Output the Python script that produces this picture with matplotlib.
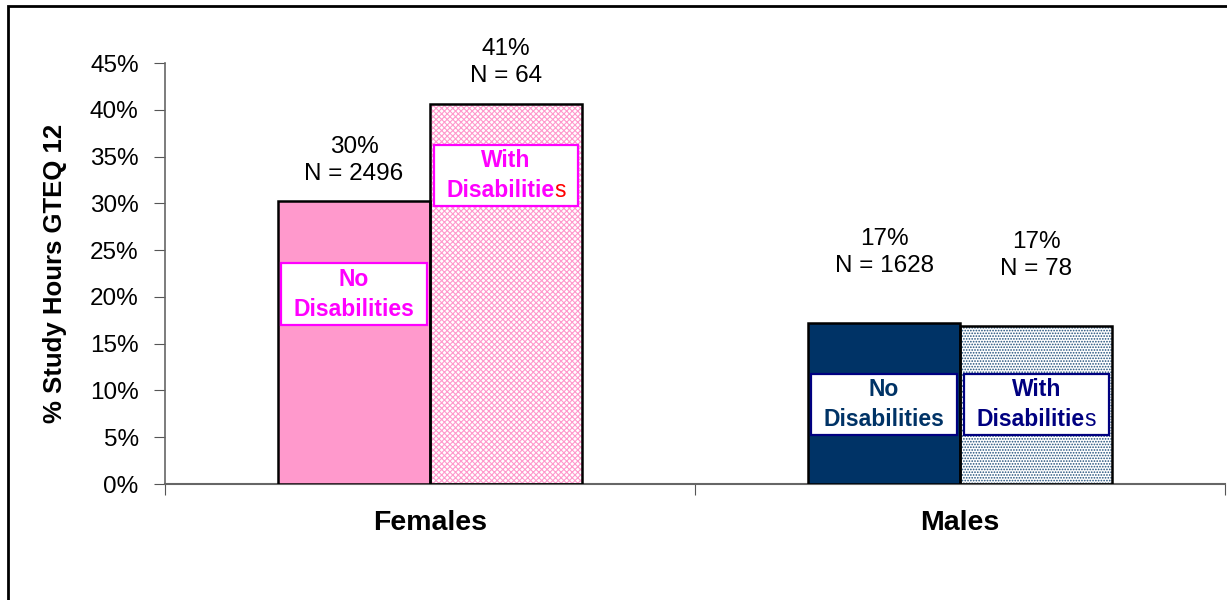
import numpy as np
import matplotlib.pyplot as plt
from matplotlib.patches import Rectangle
from matplotlib.offsetbox import (TextArea, HPacker, VPacker, DrawingArea,
                                  AnnotationBbox)
from matplotlib.ticker import PercentFormatter

plt.rcParams['font.family'] = ['Liberation Sans', 'DejaVu Sans']
plt.rcParams['hatch.linewidth'] = 0.8

groups = ['Females', 'Males']
series = ['No Disabilities', 'With Disabilities']
values = {
    'No Disabilities': [0.302, 0.172],
    'With Disabilities': [0.406, 0.169],
}
pct_labels = {
    'No Disabilities': ['30%', '17%'],
    'With Disabilities': ['41%', '17%'],
}
n_labels = {
    'No Disabilities': [2496, 1628],
    'With Disabilities': [64, 78],
}
yticks = np.arange(0, 0.46, 0.05)

fig = plt.figure(figsize=(12.27, 6), dpi=100)
ax = fig.add_axes([0.1345, 0.1933, 0.864, 0.7017])

# outer frame (only left/top visible in the original)
fig.patches.append(Rectangle((8 / 1227, -0.5), 2.0, 1.5 - 6 / 600,
                             transform=fig.transFigure, fill=False,
                             edgecolor='black', linewidth=2.0))

x = np.arange(len(groups))
w = 0.287

# bar styles per group / series
face = {('Females', 'No Disabilities'): '#FF99CC',
        ('Females', 'With Disabilities'): 'white',
        ('Males', 'No Disabilities'): '#003366',
        ('Males', 'With Disabilities'): 'white'}
hatch = {('Females', 'With Disabilities'): ('xxxxxx', '#FF99CC'),
         ('Males', 'With Disabilities'): ('......', '#1F4E79')}
# box edge, text colour, colour of the trailing "s" (None = no split)
text_col = {('Females', 'No Disabilities'): ('#FF00FF', '#FF00FF', None),
            ('Females', 'With Disabilities'): ('#FF00FF', '#FF00FF', '#FF0000'),
            ('Males', 'No Disabilities'): ('#000080', '#003366', None),
            ('Males', 'With Disabilities'): ('#000080', '#000080', '#000080')}
label_y = {'Females': {'No Disabilities': 0.203, 'With Disabilities': 0.330},
           'Males': {'No Disabilities': 0.085, 'With Disabilities': 0.085}}
top_offset = {'Females': 12, 'Males': 33}
fs = 17.5

for j, s in enumerate(series):
    xs = x + (j - 0.5) * w
    for i, g in enumerate(groups):
        v = values[s][i]
        key = (g, s)
        if key in hatch:
            h, hc = hatch[key]
            ax.bar(xs[i], v, w, color='white', edgecolor=hc, hatch=h,
                   linewidth=0, zorder=2)
            ax.bar(xs[i], v, w, color='none', edgecolor='black',
                   linewidth=1.8, zorder=3)
        else:
            ax.bar(xs[i], v, w, color=face[key], edgecolor='black',
                   linewidth=1.8, zorder=3)

        # value / N labels above bars
        ax.annotate(f'{pct_labels[s][i]}\nN = {n_labels[s][i]}',
                    (xs[i], v), xytext=(0, top_offset[g]),
                    textcoords='offset points', ha='center', va='bottom',
                    fontsize=fs, linespacing=1.3)

        # series label boxes inside bars
        c_box, c_txt, c_s = text_col[key]
        first, second = s.split(' ')
        tp = dict(color=c_txt, fontweight='bold', fontsize=16.5)
        line1 = TextArea(first, textprops=tp)
        if c_s is not None:
            line2 = HPacker(children=[
                TextArea(second[:-1], textprops=tp),
                TextArea(second[-1], textprops=dict(color=c_s, fontsize=16.5))],
                align='baseline', pad=0, sep=0)
        else:
            line2 = TextArea(second, textprops=tp)
        box = VPacker(children=[line1, line2], align='center', pad=0, sep=5)
        box = HPacker(children=[DrawingArea(6, 1), box, DrawingArea(6, 1)],
                      align='center', pad=0, sep=0)
        ab = AnnotationBbox(box, (xs[i], label_y[g][s]), frameon=True,
                            box_alignment=(0.5, 0.5), pad=0.3,
                            bboxprops=dict(facecolor='white', edgecolor=c_box,
                                           linewidth=1.6, boxstyle='square'),
                            zorder=4)
        ax.add_artist(ab)

ax.set_xlim(-0.5, 1.5)
ax.set_ylim(0, 0.45)
ax.set_yticks(yticks)
ax.yaxis.set_major_formatter(PercentFormatter(1.0, decimals=0))
ax.set_xticks([-0.5, 0.5, 1.5])
ax.set_xticklabels([])
ax.set_xticks(x, minor=True)
ax.set_xticklabels(groups, minor=True, fontsize=20.5, fontweight='bold')
ax.tick_params(axis='x', which='minor', length=0, pad=19)
ax.tick_params(axis='x', which='major', length=8, direction='out',
               color='#555555')
ax.tick_params(axis='y', labelsize=fs, length=8, direction='out', pad=11,
               color='#555555')
for side in ['top', 'right']:
    ax.spines[side].set_visible(False)
ax.spines['left'].set_color('#666666')
ax.spines['bottom'].set_color('#666666')
ax.spines['left'].set_linewidth(1.2)
ax.spines['bottom'].set_linewidth(1.5)

ax.set_ylabel('% Study Hours GTEQ 12', fontsize=18.5, fontweight='bold')
ax.yaxis.set_label_coords(-0.092, 0.5)

plt.savefig('out.png', dpi=100)
plt.close()
